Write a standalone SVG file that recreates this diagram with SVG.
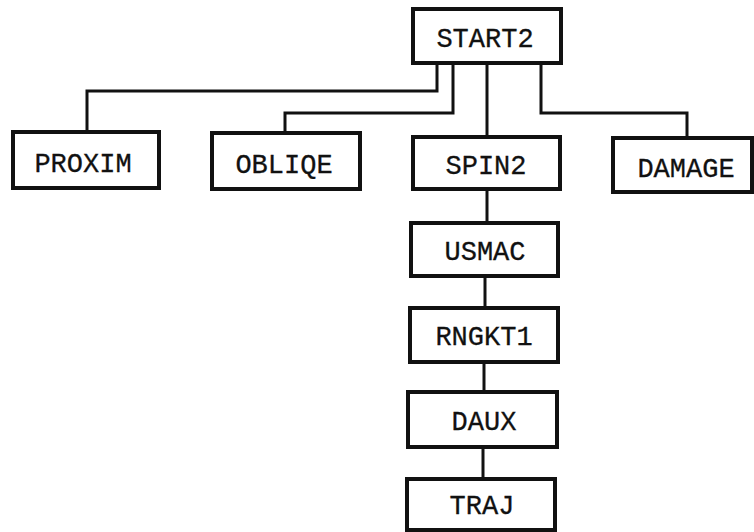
<svg xmlns="http://www.w3.org/2000/svg" width="754" height="532" viewBox="0 0 754 532">
<style>
.box{fill:#fff;stroke:#111;stroke-width:4}
.lbl{font-family:"Liberation Mono","Courier New",monospace;font-size:27px;fill:#111;text-anchor:middle;stroke:#111;stroke-width:0.3}
.conn{fill:none;stroke:#111;stroke-width:3;stroke-linejoin:miter}
</style>
<rect width="754" height="532" fill="#fff"/>
<g id="connectors">
<polyline class="conn" points="437,63 437,91 87,91 87,132"/>
<polyline class="conn" points="453,63 453,113 285,113 285,133"/>
<polyline class="conn" points="487,63 487,137"/>
<polyline class="conn" points="541,63 541,113 687,113 687,138"/>
<polyline class="conn" points="487,189 487,223"/>
<polyline class="conn" points="485,276 485,308"/>
<polyline class="conn" points="484,362 484,392"/>
<polyline class="conn" points="483,447 483,479"/>
</g>
<g id="START2"><rect class="box" x="413" y="9" width="148" height="54"/><text class="lbl" x="485" y="47">START2</text></g>
<g id="PROXIM"><rect class="box" x="13" y="132" width="146" height="56"/><text class="lbl" x="83" y="172">PROXIM</text></g>
<g id="OBLIQE"><rect class="box" x="212" y="133" width="148" height="56"/><text class="lbl" x="284" y="173">OBLIQE</text></g>
<g id="SPIN2"><rect class="box" x="413" y="137" width="147" height="52"/><text class="lbl" x="486" y="174">SPIN2</text></g>
<g id="DAMAGE"><rect class="box" x="613" y="138" width="139" height="54"/><text class="lbl" x="686" y="177">DAMAGE</text></g>
<g id="USMAC"><rect class="box" x="411" y="223" width="147" height="53"/><text class="lbl" x="485" y="260">USMAC</text></g>
<g id="RNGKT1"><rect class="box" x="410" y="308" width="148" height="54"/><text class="lbl" x="484" y="345">RNGKT1</text></g>
<g id="DAUX"><rect class="box" x="408" y="392" width="149" height="55"/><text class="lbl" x="484" y="430">DAUX</text></g>
<g id="TRAJ"><rect class="box" x="407" y="479" width="148" height="51"/><text class="lbl" x="482" y="514">TRAJ</text></g>
</svg>
